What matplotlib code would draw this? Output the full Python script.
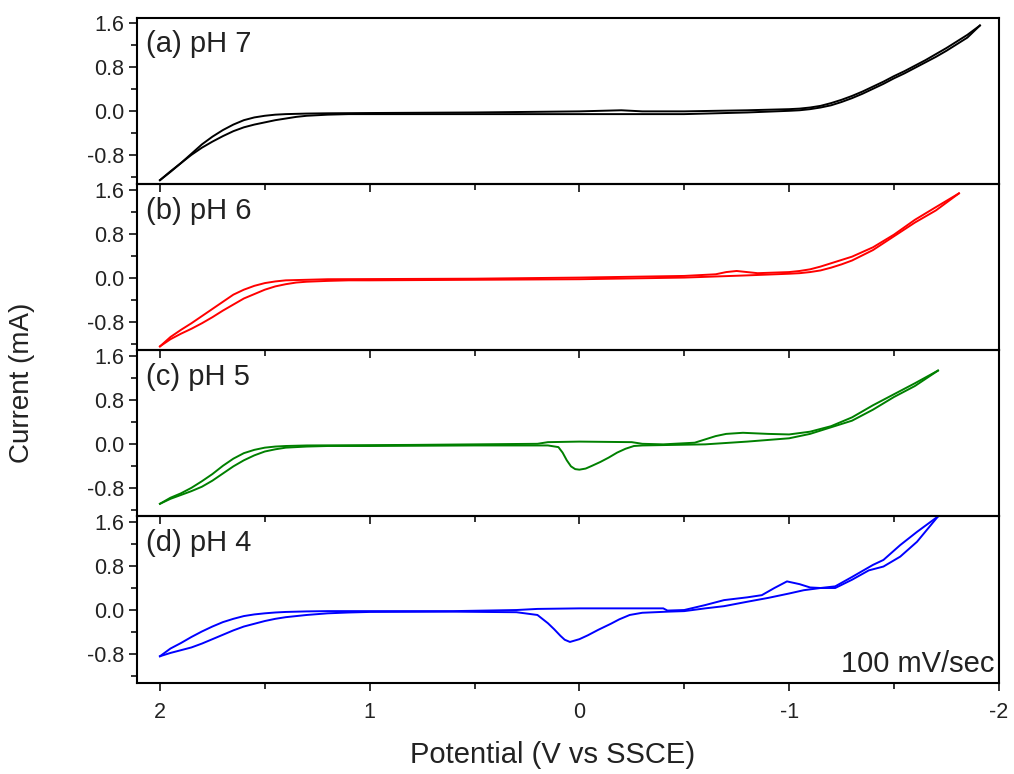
import matplotlib
matplotlib.use("Agg")
import matplotlib.pyplot as plt
from matplotlib.ticker import MultipleLocator

plt.rcParams['font.family'] = ['Liberation Sans', 'DejaVu Sans']

# --- data (potential in V, current in mA) ---
# each CV: forward sweep (2 V -> most negative) and return sweep back to 2 V
ph7_fwd_v = [2.0, 1.95, 1.9, 1.85, 1.8, 1.75, 1.7, 1.65, 1.6, 1.55, 1.5, 1.45, 1.4, 1.3, 1.2, 1.0,
             0.5, 0.0, -0.1, -0.2, -0.3, -0.5, -0.8, -1.0, -1.05, -1.1, -1.15, -1.2, -1.25, -1.3,
             -1.35, -1.4, -1.45, -1.5, -1.55, -1.6, -1.65, -1.7, -1.75, -1.8, -1.85, -1.91]
ph7_fwd_i = [-1.25, -1.1, -0.94, -0.77, -0.6, -0.46, -0.34, -0.24, -0.16, -0.11, -0.08, -0.06,
             -0.05, -0.04, -0.035, -0.03, -0.02, 0.0, 0.01, 0.02, 0.0, 0.0, 0.02, 0.04, 0.05, 0.07,
             0.1, 0.15, 0.21, 0.28, 0.36, 0.45, 0.54, 0.64, 0.73, 0.83, 0.93, 1.04, 1.15, 1.27, 1.39,
             1.56]
ph7_rev_v = [-1.91, -1.85, -1.8, -1.75, -1.7, -1.65, -1.6, -1.55, -1.5, -1.45, -1.4, -1.35, -1.3,
             -1.25, -1.2, -1.15, -1.1, -1.05, -1.0, -0.8, -0.5, 0.0, 0.5, 1.0, 1.1, 1.2, 1.3, 1.35,
             1.4, 1.45, 1.5, 1.55, 1.6, 1.65, 1.7, 1.75, 1.8, 1.85, 1.9, 1.95, 2.0]
ph7_rev_i = [1.56, 1.34, 1.22, 1.1, 0.99, 0.89, 0.79, 0.69, 0.6, 0.5, 0.41, 0.32, 0.24, 0.17, 0.11,
             0.07, 0.04, 0.02, 0.01, -0.02, -0.05, -0.05, -0.05, -0.05, -0.05, -0.06, -0.08, -0.1,
             -0.13, -0.16, -0.2, -0.24, -0.29, -0.36, -0.45, -0.55, -0.66, -0.79, -0.94, -1.09,
             -1.25]

ph6_fwd_v = [2.0, 1.95, 1.9, 1.85, 1.8, 1.75, 1.7, 1.65, 1.6, 1.55, 1.5, 1.45, 1.4, 1.3, 1.2, 0.5,
             0.0, -0.5, -0.65, -0.7, -0.75, -0.8, -0.85, -1.0, -1.05, -1.1, -1.15, -1.2, -1.25, -1.3,
             -1.4, -1.5, -1.6, -1.7, -1.81]
ph6_fwd_i = [-1.25, -1.08, -0.95, -0.83, -0.7, -0.57, -0.44, -0.31, -0.22, -0.15, -0.1, -0.07,
             -0.05, -0.04, -0.03, -0.02, 0.0, 0.03, 0.06, 0.1, 0.12, 0.1, 0.08, 0.1, 0.12, 0.15, 0.2,
             0.26, 0.32, 0.38, 0.55, 0.78, 1.05, 1.28, 1.53]
ph6_rev_v = [-1.81, -1.7, -1.6, -1.5, -1.4, -1.3, -1.25, -1.2, -1.15, -1.1, -1.05, -1.0, -0.8, -0.5,
             0.0, 0.5, 1.0, 1.1, 1.2, 1.3, 1.35, 1.4, 1.45, 1.5, 1.55, 1.6, 1.65, 1.7, 1.75, 1.8,
             1.85, 1.9, 1.95, 2.0]
ph6_rev_i = [1.53, 1.22, 1.0, 0.75, 0.5, 0.31, 0.24, 0.18, 0.13, 0.1, 0.08, 0.07, 0.04, 0.0, -0.03,
             -0.04, -0.05, -0.05, -0.06, -0.075, -0.09, -0.12, -0.16, -0.22, -0.3, -0.38, -0.49,
             -0.6, -0.72, -0.83, -0.93, -1.02, -1.12, -1.25]

ph5_fwd_v = [2.0, 1.95, 1.9, 1.85, 1.8, 1.75, 1.7, 1.65, 1.6, 1.55, 1.5, 1.45, 1.4, 1.3, 0.8, 0.2,
             0.15, 0.0, -0.25, -0.3, -0.4, -0.55, -0.6, -0.65, -0.7, -0.78, -0.9, -1.0, -1.1, -1.2,
             -1.3, -1.4, -1.5, -1.6, -1.71]
ph5_fwd_i = [-1.09, -0.98, -0.9, -0.8, -0.68, -0.55, -0.4, -0.27, -0.17, -0.11, -0.07, -0.05, -0.04,
             -0.03, -0.02, 0.0, 0.03, 0.04, 0.03, 0.0, -0.01, 0.02, 0.08, 0.14, 0.18, 0.2, 0.18,
             0.17, 0.22, 0.32, 0.48, 0.7, 0.9, 1.1, 1.33]
ph5_rev_v = [-1.71, -1.6, -1.5, -1.4, -1.3, -1.2, -1.1, -1.0, -0.8, -0.6, -0.3, -0.26, -0.22, -0.18,
             -0.14, -0.1, -0.06, -0.03, 0.0, 0.02, 0.04, 0.06, 0.08, 0.1, 0.15, 0.5, 1.0, 1.2, 1.3,
             1.4, 1.45, 1.5, 1.55, 1.6, 1.65, 1.7, 1.75, 1.8, 1.85, 1.9, 1.95, 2.0]
ph5_rev_i = [1.33, 1.05, 0.85, 0.62, 0.42, 0.3, 0.18, 0.1, 0.04, -0.01, -0.03, -0.04, -0.09, -0.16,
             -0.25, -0.33, -0.4, -0.45, -0.47, -0.46, -0.41, -0.3, -0.16, -0.06, -0.03, -0.03,
             -0.04, -0.04, -0.05, -0.07, -0.1, -0.14, -0.21, -0.3, -0.41, -0.54, -0.67, -0.78,
             -0.86, -0.93, -1.0, -1.09]

ph4_fwd_v = [2.0, 1.95, 1.9, 1.85, 1.8, 1.75, 1.7, 1.65, 1.6, 1.55, 1.5, 1.45, 1.4, 1.3, 1.2, 0.6,
             0.3, 0.2, 0.0, -0.2, -0.4, -0.42, -0.5, -0.6, -0.69, -0.8, -0.87, -0.93, -0.99, -1.05,
             -1.1, -1.15, -1.22, -1.3, -1.4, -1.45, -1.53, -1.61, -1.71]
ph4_fwd_i = [-0.84, -0.7, -0.6, -0.49, -0.39, -0.3, -0.22, -0.16, -0.11, -0.08, -0.06, -0.045,
             -0.035, -0.025, -0.02, -0.02, 0.0, 0.02, 0.03, 0.03, 0.03, -0.01, 0.0, 0.09, 0.18, 0.23,
             0.27, 0.4, 0.52, 0.47, 0.41, 0.4, 0.43, 0.6, 0.82, 0.91, 1.18, 1.42, 1.70]
ph4_rev_v = [-1.71, -1.61, -1.53, -1.45, -1.38, -1.3, -1.22, -1.15, -1.07, -1.0, -0.9, -0.8, -0.69,
             -0.6, -0.5, -0.42, -0.3, -0.24, -0.19, -0.15, -0.09, -0.04, 0.0, 0.045, 0.07, 0.09,
             0.12, 0.15, 0.2, 0.3, 0.6, 1.0, 1.1, 1.2, 1.3, 1.35, 1.4, 1.45, 1.5, 1.55, 1.6, 1.65,
             1.7, 1.75, 1.8, 1.85, 1.9, 1.95, 2.0]
ph4_rev_i = [1.70, 1.24, 0.97, 0.79, 0.72, 0.55, 0.40, 0.40, 0.36, 0.30, 0.22, 0.15, 0.07, 0.03,
             -0.02, -0.03, -0.05, -0.09, -0.17, -0.25, -0.36, -0.46, -0.53, -0.58, -0.54, -0.47,
             -0.35, -0.24, -0.09, -0.04, -0.03, -0.035, -0.045, -0.06, -0.09, -0.11, -0.13, -0.16,
             -0.2, -0.25, -0.3, -0.37, -0.45, -0.53, -0.61, -0.68, -0.73, -0.78, -0.84]

panels = [
    ("(a) pH 7", "black", ph7_fwd_v, ph7_fwd_i, ph7_rev_v, ph7_rev_i),
    ("(b) pH 6", "#ff0000", ph6_fwd_v, ph6_fwd_i, ph6_rev_v, ph6_rev_i),
    ("(c) pH 5", "#008000", ph5_fwd_v, ph5_fwd_i, ph5_rev_v, ph5_rev_i),
    ("(d) pH 4", "#0000ff", ph4_fwd_v, ph4_fwd_i, ph4_rev_v, ph4_rev_i),
]

fig = plt.figure(figsize=(10.14, 7.74), dpi=100)
gs = fig.add_gridspec(4, 1, left=0.135, right=0.985, top=0.977, bottom=0.118, hspace=0)

for k, (label, color, fv, fi, rv, ri) in enumerate(panels):
    ax = fig.add_subplot(gs[k])
    ax.set_facecolor('none')
    ax.plot(fv, fi, color=color, lw=1.4)
    ax.plot(rv, ri, color=color, lw=1.4)
    ax.set_xlim(2.11, -2.0)
    ax.set_ylim(-1.32, 1.70)
    ax.yaxis.set_major_locator(MultipleLocator(0.8))
    ax.yaxis.set_minor_locator(MultipleLocator(0.4))
    ax.xaxis.set_major_locator(MultipleLocator(1))
    ax.xaxis.set_minor_locator(MultipleLocator(0.5))
    ax.yaxis.set_major_formatter(plt.FormatStrFormatter('%.1f'))
    ax.xaxis.set_major_formatter(plt.FormatStrFormatter('%d'))
    ax.tick_params(which='both', direction='out', top=False, right=False, width=1.3,
                   labelsize=15.5, colors='#222222')
    ax.tick_params(which='major', length=6)
    ax.tick_params(which='minor', length=4)
    ax.tick_params(axis='y', pad=3)
    ax.tick_params(axis='x', pad=8)
    for sp in ax.spines.values():
        sp.set_linewidth(1.5)
    if k < 3:
        ax.tick_params(axis='x', labelbottom=False)
    ax.text(0.01, 0.84, label, transform=ax.transAxes, fontsize=21,
            ha='left', va='center', color='#222222')
    if k == 3:
        ax.text(0.995, 0.03, "100 mV/sec", transform=ax.transAxes, fontsize=21,
                ha='right', va='bottom', color='#222222')

fig.text(0.022, 0.505, "Current (mA)", rotation=90, ha='center', va='center',
         fontsize=20, color='#222222')
fig.text(0.545, 0.025, "Potential (V vs SSCE)", ha='center', va='center',
         fontsize=21, color='#222222')

fig.savefig("out.png", dpi=100)
